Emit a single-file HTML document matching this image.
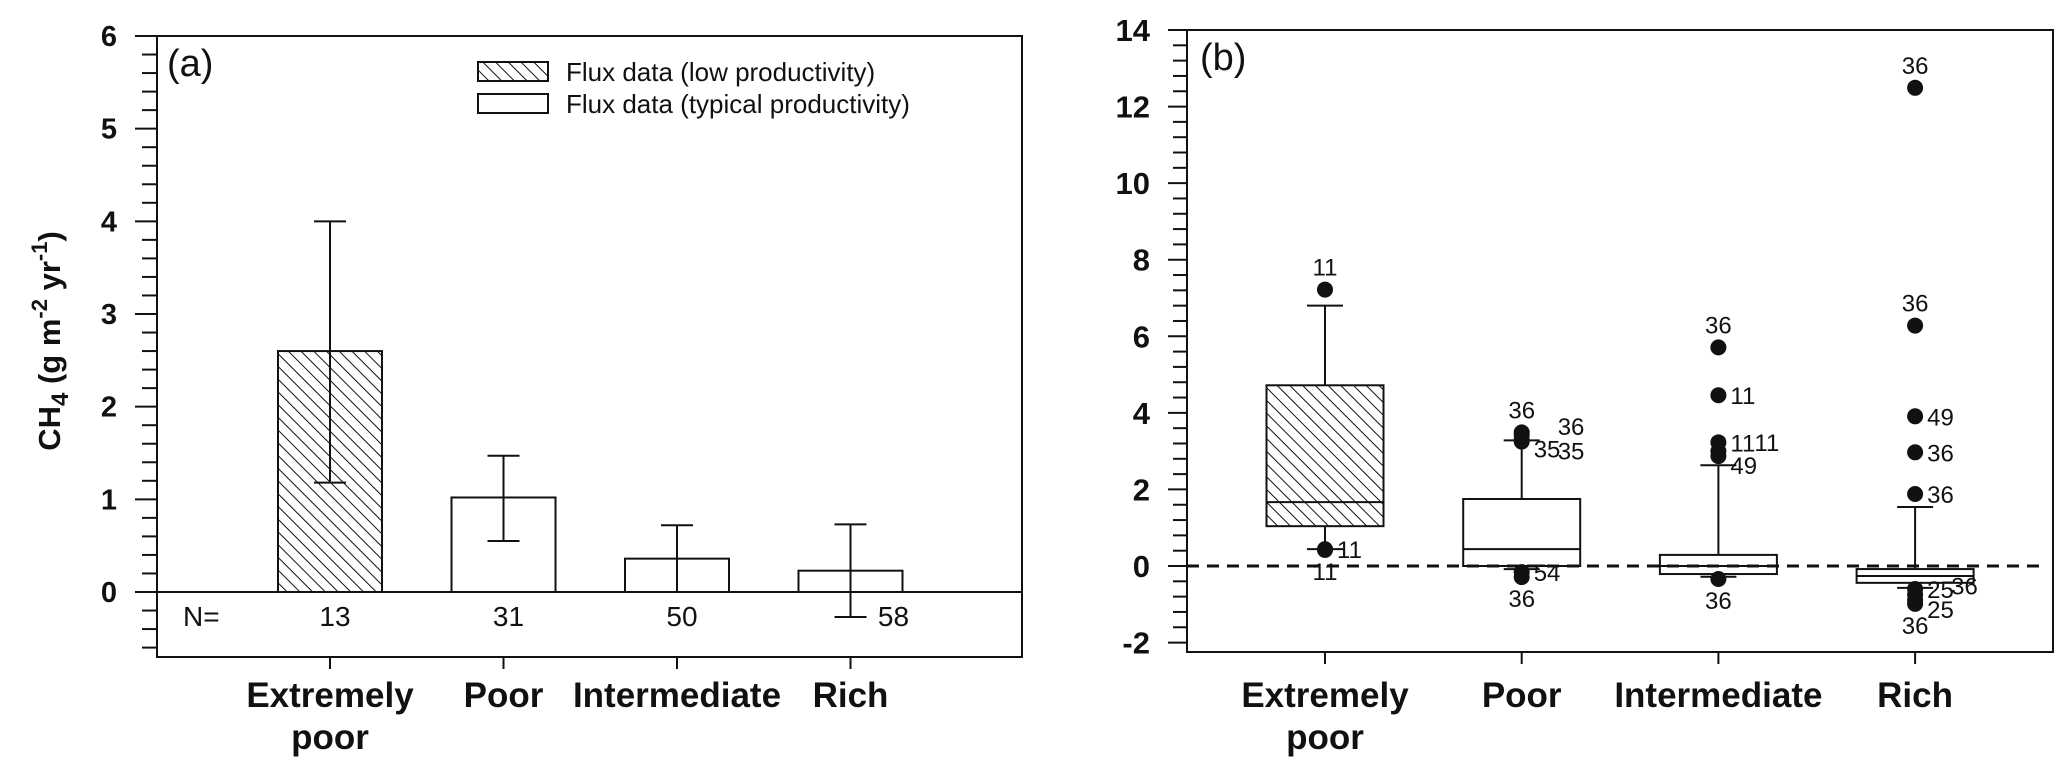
<!DOCTYPE html>
<html><head><meta charset="utf-8"><style>
html,body{margin:0;padding:0;background:#fff;}
svg{display:block;}
text{font-family:"Liberation Sans",Arial,sans-serif;fill:#111;}
.tick{font-weight:bold;font-size:29px;}
.cat{font-weight:bold;font-size:35px;}
.lab{font-size:24px;}
</style></head><body>
<svg id="chart" width="2067" height="778" viewBox="0 0 2067 778" xmlns="http://www.w3.org/2000/svg">
<defs>
<pattern id="hatch" patternUnits="userSpaceOnUse" width="9" height="9" patternTransform="rotate(-45)">
<rect width="9" height="9" fill="#fff"/><line x1="0" y1="0" x2="0" y2="9" stroke="#111" stroke-width="2"/>
</pattern>
</defs>
<g id="pa"></g>
<g id="pb"></g>
</svg>
<script>
// ---- Panel A data ----
const catsA = ["Extremely poor","Poor","Intermediate","Rich"];
const meansA = [2.6, 1.02, 0.36, 0.23];
const errLowA = [1.18, 0.55, 0.0, -0.27];
const errHighA = [4.0, 1.47, 0.72, 0.73];
const nA = ["13","31","50","58"];
const hatchedA = [true,false,false,false];
const ticksA = [0,1,2,3,4,5,6];
// ---- Panel B data ----
const catsB = ["Extremely poor","Poor","Intermediate","Rich"];
const q1B = [1.04, 0.0, -0.21, -0.44];
const medB = [1.67, 0.44, 0.0, -0.26];
const q3B = [4.72, 1.75, 0.29, -0.08];
const whiskLoB = [0.44, -0.08, -0.28, -0.57];
const whiskHiB = [6.8, 3.28, 2.63, 1.54];
const outValsB = [[7.22,0.44,0.42],[3.49,3.42,3.3,3.25,-0.16,-0.29],[5.71,4.46,3.23,3.0,2.87,-0.34],[12.49,6.28,3.91,2.97,1.88,-0.6,-0.75,-0.89,-0.99]];
const outLabsB = [["11","11","11"],["36","36","35","35","54","36"],["36","11","11","11","49","36"],["36","36","49","36","36","25","36","25","36"]];
const ticksB = [-2,0,2,4,6,8,10,12,14];
// label placement: a=above, b=below, r=right (layout, not data)
const outSideB = [["a","r","b"],["a","r2","r3","r4","r","b"],["a","r","r","r2","r3","b"],["a","a","r","r","r","r","r2","r3","b"]];

const NS="http://www.w3.org/2000/svg";
function mk(parent,tag,attrs,txt){const e=document.createElementNS(NS,tag);for(const k in attrs)e.setAttribute(k,attrs[k]);if(txt!==undefined)e.textContent=txt;parent.appendChild(e);return e;}

// ===== Panel A =====
(function(){
const g=document.getElementById('pa');
const L=157,R=1022,T=36,B=657,y0=592,unit=(592-36)/6;
const y=v=>y0-v*unit;
const x=i=>330+i*173.5;
const frame=mk(g,'rect',{x:L,y:T,width:R-L,height:B-T,fill:'none',stroke:'#111','stroke-width':2});

// minor ticks
for(let v=-0.6;v<=6.001;v+=0.2){const vv=Math.round(v*10)/10;const major=Math.abs(vv-Math.round(vv))<1e-6;
 const t=mk(g,'line',{x1:major?L-22:L-15,x2:L,y1:y(vv),y2:y(vv),stroke:'#111','stroke-width':2});
 }
ticksA.forEach(v=>{const t=mk(g,'text',{x:117,y:y(v)+10,'text-anchor':'end',class:'tick'},String(v));
 });
// zero line
const zl=mk(g,'line',{x1:L,x2:R,y1:y(0),y2:y(0),stroke:'#111','stroke-width':2});

const nl=mk(g,'text',{x:183,y:626,style:'font-size:28px'},'N=');

catsA.forEach((c,i)=>{
 const cx=x(i),w=104;
 const b=mk(g,'rect',{x:cx-w/2,y:y(meansA[i]),width:w,height:y(0)-y(meansA[i]),fill:hatchedA[i]?'url(#hatch)':'#fff',stroke:'#111','stroke-width':2});
 
 const eb=mk(g,'path',{d:`M${cx},${y(errLowA[i])}V${y(errHighA[i])}M${cx-16},${y(errHighA[i])}h32M${cx-16},${y(errLowA[i])}h32`,stroke:'#111','stroke-width':2,fill:'none'});
 
 const nx = i===3 ? cx+43 : cx+5;
 const nt=mk(g,'text',{x:nx,y:626,'text-anchor':'middle',style:'font-size:28px'},nA[i]);
 
 const tk=mk(g,'line',{x1:cx,x2:cx,y1:B,y2:B+12,stroke:'#111','stroke-width':2});
 
 const parts=c==="Extremely poor"?["Extremely","poor"]:[c];
 parts.forEach((p,j)=>{const t=mk(g,'text',{x:cx,y:707+j*42,'text-anchor':'middle',class:'cat'},p);
  });
});
const pl=mk(g,'text',{x:167,y:76,style:'font-size:38px'},'(a)');

// legend
const lg=mk(g,'g',{});
const r1=mk(lg,'rect',{x:478,y:62,width:70,height:19,fill:'url(#hatch)',stroke:'#111','stroke-width':2});

const t1=mk(lg,'text',{x:566,y:81,style:'font-size:26px'},'Flux data (low productivity)');

const r2=mk(lg,'rect',{x:478,y:94,width:70,height:19,fill:'#fff',stroke:'#111','stroke-width':2});

const t2=mk(lg,'text',{x:566,y:113,style:'font-size:26px'},'Flux data (typical productivity)');

// y title
const yt=mk(g,'text',{transform:'translate(60,341) rotate(-90)','text-anchor':'middle',style:'font-size:31px;font-weight:bold'});

yt.innerHTML='CH<tspan dy="8" style="font-size:24px">4</tspan><tspan dy="-8"> (g m</tspan><tspan dy="-13" style="font-size:22px">-2</tspan><tspan dy="13"> yr</tspan><tspan dy="-13" style="font-size:22px">-1</tspan><tspan dy="13">)</tspan>';
})();

// ===== Panel B =====
(function(){
const g=document.getElementById('pb');
const L=1187,R=2053,T=30,B=652,y0=566,unit=(566-30)/14;
const y=v=>y0-v*unit;
const x=i=>1325+i*196.7;
const fr=mk(g,'rect',{x:L,y:T,width:R-L,height:B-T,fill:'none',stroke:'#111','stroke-width':2});

for(let k=-5;k<=35;k++){const vv=k*0.4;const major=k%5===0;
 const t=mk(g,'line',{x1:major?L-19:L-14,x2:L,y1:y(vv),y2:y(vv),stroke:'#111','stroke-width':2});
 }
ticksB.forEach(v=>{const t=mk(g,'text',{x:1150,y:y(v)+11,'text-anchor':'end',class:'tick',style:'font-size:31px'},String(v));
 });
catsB.forEach((c,i)=>{
 const cx=x(i),w=117;
 const wk=mk(g,'path',{d:`M${cx},${y(whiskLoB[i])}V${y(q1B[i])}M${cx},${y(q3B[i])}V${y(whiskHiB[i])}M${cx-18},${y(whiskHiB[i])}h36M${cx-18},${y(whiskLoB[i])}h36`,stroke:'#111','stroke-width':2,fill:'none'});
 
 const bx=mk(g,'rect',{x:cx-w/2,y:y(q3B[i]),width:w,height:y(q1B[i])-y(q3B[i]),fill:i===0?'url(#hatch)':'#fff',stroke:'#111','stroke-width':2});
 
 const md=mk(g,'line',{x1:cx-w/2,x2:cx+w/2,y1:y(medB[i]),y2:y(medB[i]),stroke:'#111','stroke-width':2});
 
 outValsB[i].forEach((v,j)=>{
  const d=mk(g,'circle',{cx:cx,cy:y(v),r:8,fill:'#111'});
  
  const s=outSideB[i][j];let lx=cx,ly=y(v),anc='middle';
  if(s==='a'){ly-=14;}else if(s==='b'){ly+=30;}
  else if(s==='r'){lx+=12;ly+=9;anc='start';}
  else if(s==='r2'){lx+=36;ly+=0;anc='start';}
  else if(s==='r3'){lx+=12;ly+=18;anc='start';}
  else if(s==='r4'){lx+=36;ly+=18;anc='start';}
  const t=mk(g,'text',{x:lx,y:ly,'text-anchor':anc,class:'lab'},outLabsB[i][j]);
  
 });
 const tk=mk(g,'line',{x1:cx,x2:cx,y1:B,y2:B+12,stroke:'#111','stroke-width':2});
 
 const parts=c==="Extremely poor"?["Extremely","poor"]:[c];
 parts.forEach((p,j)=>{const t=mk(g,'text',{x:cx,y:707+j*42,'text-anchor':'middle',class:'cat'},p);
  });
});
const dl=mk(g,'line',{x1:L,x2:R-10,y1:y(0),y2:y(0),stroke:'#111','stroke-width':3,'stroke-dasharray':'12,8'});

const pl=mk(g,'text',{x:1200,y:70,style:'font-size:38px'},'(b)');

})();
</script>
</body></html>
